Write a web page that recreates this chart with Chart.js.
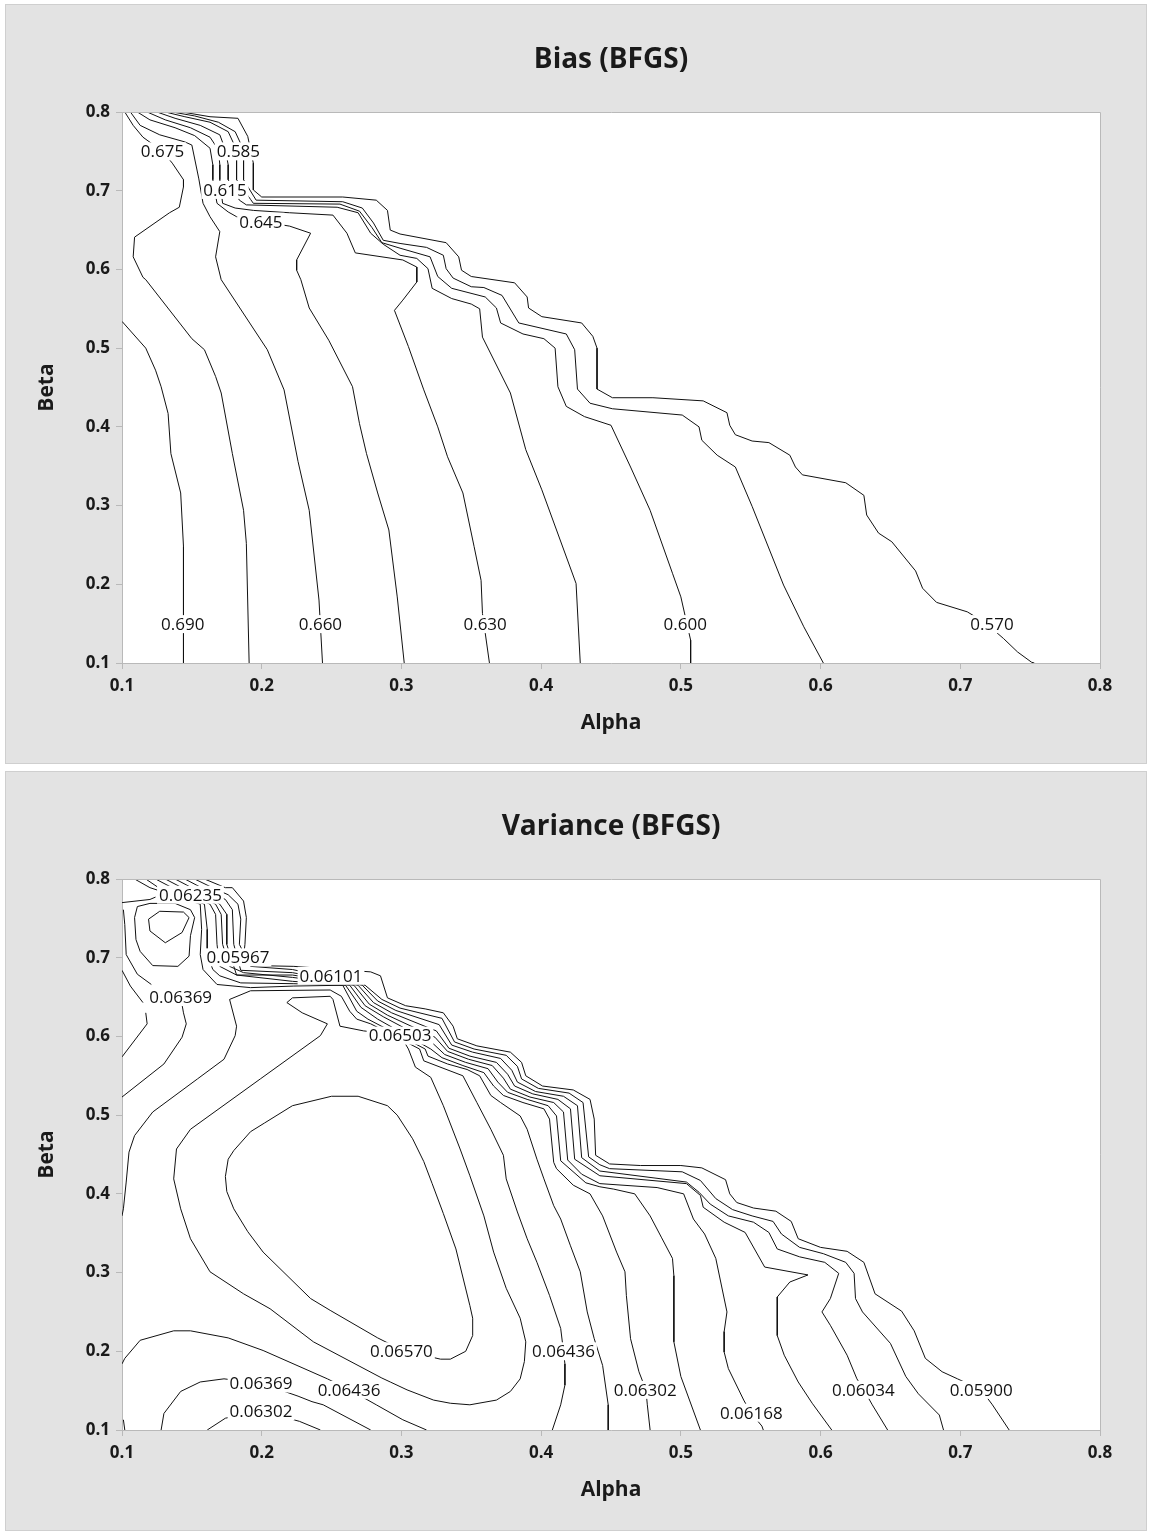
<!DOCTYPE html>
<html>
<head>
<meta charset="utf-8">
<title>Bias / Variance (BFGS)</title>
<script src="https://cdn.jsdelivr.net/npm/chart.js@4.4.0/dist/chart.umd.min.js"></script>
<style>
  body { margin: 0; width: 1152px; height: 1534px; background: #ffffff; position: relative; }
  .panel { position: absolute; left: 5px; width: 1140px; height: 758px; background: #e3e3e3; border: 1px solid #cfcfcf; }
  #panelBias { top: 4px; }
  #panelVar { top: 771px; }
  .panel canvas { position: absolute; left: 0; top: 0; }
</style>
</head>
<body>
<div class="panel" id="panelBias"><canvas id="biasChart" width="1140" height="758"></canvas></div>
<div class="panel" id="panelVar"><canvas id="varChart" width="1140" height="758"></canvas></div>

<script>
// Shared axis ticks (Alpha on x, Beta on y)
const axisTicks = [0.1, 0.2, 0.3, 0.4, 0.5, 0.6, 0.7, 0.8];

// ---- Bias (BFGS): contour lines as [alpha, beta] points ----
const bias0690 = [[0.100,0.534],[0.117,0.500],[0.124,0.472],[0.128,0.451],[0.133,0.417],[0.135,0.366],[0.142,0.316],[0.144,0.248],[0.144,0.100]];
const bias0675 = [[0.102,0.800],[0.108,0.783],[0.115,0.768],[0.129,0.750],[0.136,0.735],[0.144,0.714],[0.144,0.705],[0.141,0.679],[0.134,0.672],[0.109,0.641],[0.108,0.616],[0.115,0.590],[0.117,0.587],[0.150,0.512],[0.159,0.498],[0.167,0.464],[0.171,0.443],[0.179,0.366],[0.187,0.294],[0.189,0.252],[0.191,0.100]];
const bias0660 = [[0.106,0.800],[0.113,0.783],[0.127,0.771],[0.145,0.762],[0.150,0.758],[0.155,0.715],[0.158,0.684],[0.163,0.667],[0.170,0.648],[0.167,0.616],[0.171,0.587],[0.204,0.498],[0.216,0.447],[0.226,0.356],[0.234,0.294],[0.241,0.180],[0.2435,0.100]];
const bias0645 = [[0.111,0.800],[0.120,0.790],[0.138,0.780],[0.152,0.770],[0.163,0.754],[0.165,0.733],[0.165,0.714],[0.168,0.684],[0.176,0.673],[0.182,0.667],[0.199,0.661],[0.220,0.655],[0.235,0.646],[0.225,0.612],[0.225,0.599],[0.228,0.587],[0.234,0.551],[0.248,0.510],[0.265,0.451],[0.270,0.404],[0.275,0.366],[0.283,0.316],[0.291,0.269],[0.297,0.184],[0.302,0.100]];
const bias0630 = [[0.118,0.800],[0.131,0.790],[0.149,0.780],[0.163,0.768],[0.169,0.752],[0.170,0.733],[0.170,0.714],[0.172,0.684],[0.181,0.678],[0.194,0.675],[0.220,0.672],[0.251,0.669],[0.261,0.646],[0.267,0.621],[0.301,0.612],[0.311,0.603],[0.311,0.584],[0.301,0.561],[0.295,0.548],[0.305,0.502],[0.316,0.447],[0.326,0.400],[0.333,0.362],[0.344,0.316],[0.352,0.248],[0.357,0.205],[0.358,0.163],[0.363,0.100]];
const bias0615 = [[0.125,0.800],[0.138,0.792],[0.156,0.783],[0.170,0.771],[0.174,0.752],[0.176,0.733],[0.176,0.714],[0.184,0.688],[0.189,0.682],[0.254,0.679],[0.269,0.672],[0.278,0.646],[0.287,0.632],[0.299,0.618],[0.311,0.614],[0.319,0.601],[0.322,0.576],[0.336,0.563],[0.350,0.556],[0.356,0.550],[0.358,0.514],[0.378,0.443],[0.389,0.371],[0.4005,0.320],[0.425,0.201],[0.428,0.100]];
const bias0600 = [[0.131,0.800],[0.145,0.794],[0.163,0.787],[0.176,0.775],[0.182,0.752],[0.182,0.714],[0.192,0.689],[0.194,0.684],[0.256,0.683],[0.270,0.674],[0.279,0.653],[0.286,0.634],[0.299,0.627],[0.3205,0.616],[0.326,0.591],[0.336,0.576],[0.360,0.565],[0.368,0.551],[0.371,0.532],[0.387,0.518],[0.402,0.512],[0.410,0.500],[0.412,0.451],[0.418,0.426],[0.431,0.413],[0.450,0.402],[0.464,0.349],[0.478,0.294],[0.494,0.214],[0.500,0.184],[0.507,0.129],[0.507,0.100]];
const bias0585 = [[0.136,0.800],[0.152,0.795],[0.169,0.787],[0.181,0.775],[0.187,0.752],[0.187,0.714],[0.196,0.688],[0.258,0.686],[0.272,0.678],[0.280,0.659],[0.287,0.637],[0.299,0.633],[0.318,0.628],[0.330,0.618],[0.332,0.601],[0.337,0.589],[0.350,0.578],[0.359,0.577],[0.372,0.567],[0.384,0.532],[0.418,0.518],[0.424,0.498],[0.426,0.448],[0.435,0.430],[0.451,0.423],[0.501,0.415],[0.513,0.400],[0.515,0.383],[0.526,0.364],[0.539,0.349],[0.551,0.299],[0.5735,0.199],[0.588,0.146],[0.602,0.100]];
const bias0570 = [[0.143,0.800],[0.163,0.794],[0.183,0.792],[0.190,0.769],[0.194,0.735],[0.194,0.701],[0.200,0.692],[0.258,0.692],[0.282,0.688],[0.290,0.675],[0.292,0.650],[0.299,0.645],[0.332,0.634],[0.341,0.616],[0.343,0.599],[0.350,0.591],[0.381,0.583],[0.390,0.565],[0.391,0.551],[0.4005,0.540],[0.429,0.532],[0.437,0.515],[0.440,0.500],[0.440,0.448],[0.451,0.437],[0.480,0.437],[0.516,0.433],[0.533,0.418],[0.535,0.402],[0.539,0.390],[0.551,0.382],[0.563,0.380],[0.578,0.364],[0.582,0.349],[0.587,0.339],[0.618,0.329],[0.631,0.313],[0.633,0.288],[0.6415,0.265],[0.651,0.254],[0.668,0.217],[0.673,0.195],[0.683,0.177],[0.705,0.165],[0.718,0.151],[0.731,0.131],[0.741,0.114],[0.751,0.101],[0.753,0.100]];

const biasLabels = [
  { text: '0.675', x: 0.129, y: 0.750 },
  { text: '0.585', x: 0.1833, y: 0.750 },
  { text: '0.615', x: 0.1737, y: 0.701 },
  { text: '0.645', x: 0.1994, y: 0.6606 },
  { text: '0.690', x: 0.1435, y: 0.1494 },
  { text: '0.660', x: 0.242, y: 0.1494 },
  { text: '0.630', x: 0.3599, y: 0.1494 },
  { text: '0.600', x: 0.5031, y: 0.1494 },
  { text: '0.570', x: 0.7227, y: 0.1494 }
];

// ---- Variance (BFGS): contour lines as [alpha, beta] points ----
const var05900 = [[0.159,0.800],[0.174,0.789],[0.179,0.789],[0.187,0.772],[0.189,0.751],[0.188,0.717],[0.187,0.701],[0.196,0.690],[0.223,0.689],[0.278,0.682],[0.285,0.677],[0.290,0.649],[0.303,0.639],[0.317,0.635],[0.330,0.630],[0.337,0.613],[0.340,0.597],[0.354,0.588],[0.378,0.580],[0.386,0.567],[0.389,0.550],[0.401,0.537],[0.423,0.532],[0.435,0.520],[0.438,0.495],[0.439,0.449],[0.449,0.438],[0.471,0.436],[0.500,0.436],[0.515,0.433],[0.532,0.418],[0.535,0.400],[0.540,0.389],[0.552,0.382],[0.568,0.378],[0.579,0.365],[0.584,0.343],[0.600,0.332],[0.619,0.327],[0.631,0.313],[0.639,0.273],[0.658,0.251],[0.667,0.226],[0.675,0.191],[0.687,0.174],[0.698,0.165],[0.715,0.151],[0.723,0.132],[0.735,0.100]];
const var05967 = [[0.152,0.800],[0.167,0.787],[0.176,0.780],[0.183,0.768],[0.185,0.749],[0.184,0.717],[0.192,0.689],[0.222,0.685],[0.274,0.665],[0.286,0.647],[0.299,0.636],[0.329,0.623],[0.338,0.593],[0.352,0.584],[0.375,0.576],[0.383,0.562],[0.386,0.546],[0.398,0.534],[0.420,0.528],[0.430,0.516],[0.434,0.447],[0.442,0.437],[0.449,0.432],[0.501,0.428],[0.514,0.417],[0.525,0.394],[0.537,0.380],[0.551,0.372],[0.566,0.365],[0.572,0.349],[0.585,0.332],[0.602,0.324],[0.618,0.313],[0.624,0.299],[0.625,0.267],[0.630,0.250],[0.650,0.210],[0.661,0.168],[0.670,0.146],[0.685,0.119],[0.688,0.100]];
const var06034 = [[0.145,0.800],[0.159,0.787],[0.174,0.774],[0.179,0.761],[0.180,0.717],[0.185,0.684],[0.222,0.681],[0.272,0.665],[0.283,0.645],[0.296,0.633],[0.327,0.615],[0.336,0.589],[0.351,0.580],[0.371,0.572],[0.379,0.557],[0.383,0.542],[0.396,0.530],[0.416,0.524],[0.426,0.512],[0.429,0.446],[0.442,0.429],[0.504,0.415],[0.513,0.402],[0.521,0.387],[0.534,0.372],[0.552,0.364],[0.563,0.351],[0.569,0.330],[0.585,0.320],[0.603,0.313],[0.613,0.299],[0.607,0.267],[0.601,0.250],[0.607,0.233],[0.619,0.195],[0.626,0.165],[0.631,0.151],[0.637,0.132],[0.648,0.100]];
const var06101 = [[0.138,0.800],[0.152,0.787],[0.170,0.768],[0.175,0.755],[0.175,0.717],[0.182,0.678],[0.222,0.678],[0.269,0.665],[0.280,0.643],[0.293,0.630],[0.325,0.607],[0.334,0.585],[0.349,0.575],[0.368,0.567],[0.376,0.552],[0.381,0.537],[0.394,0.527],[0.412,0.520],[0.421,0.508],[0.424,0.444],[0.442,0.423],[0.504,0.413],[0.514,0.398],[0.516,0.383],[0.531,0.364],[0.546,0.351],[0.560,0.307],[0.591,0.297],[0.578,0.288],[0.569,0.269],[0.569,0.220],[0.574,0.195],[0.584,0.161],[0.594,0.134],[0.608,0.100]];
const var06168 = [[0.131,0.800],[0.145,0.787],[0.167,0.768],[0.171,0.755],[0.172,0.717],[0.177,0.689],[0.187,0.681],[0.222,0.675],[0.266,0.665],[0.277,0.641],[0.290,0.627],[0.324,0.599],[0.333,0.581],[0.348,0.571],[0.365,0.563],[0.373,0.547],[0.378,0.533],[0.392,0.523],[0.409,0.516],[0.416,0.504],[0.419,0.443],[0.429,0.425],[0.442,0.413],[0.483,0.408],[0.502,0.400],[0.509,0.368],[0.517,0.349],[0.525,0.318],[0.533,0.250],[0.531,0.225],[0.531,0.199],[0.534,0.178],[0.545,0.138],[0.550,0.122],[0.558,0.105],[0.559,0.100]];
const var06235 = [[0.124,0.800],[0.138,0.787],[0.163,0.768],[0.167,0.755],[0.168,0.717],[0.170,0.689],[0.182,0.678],[0.222,0.670],[0.263,0.665],[0.274,0.639],[0.287,0.625],[0.322,0.592],[0.331,0.577],[0.346,0.567],[0.362,0.559],[0.369,0.542],[0.376,0.529],[0.390,0.520],[0.405,0.512],[0.411,0.499],[0.414,0.442],[0.432,0.414],[0.442,0.409],[0.452,0.406],[0.467,0.400],[0.478,0.372],[0.486,0.345],[0.494,0.318],[0.495,0.296],[0.495,0.212],[0.500,0.168],[0.514,0.100]];
const var06302 = [[0.117,0.800],[0.127,0.788],[0.159,0.768],[0.161,0.736],[0.161,0.704],[0.165,0.685],[0.170,0.677],[0.185,0.668],[0.223,0.667],[0.260,0.665],[0.271,0.637],[0.283,0.622],[0.321,0.584],[0.329,0.573],[0.344,0.563],[0.359,0.554],[0.366,0.537],[0.373,0.525],[0.387,0.516],[0.402,0.508],[0.406,0.495],[0.409,0.440],[0.411,0.432],[0.423,0.411],[0.435,0.400],[0.444,0.372],[0.454,0.326],[0.460,0.301],[0.461,0.271],[0.464,0.216],[0.470,0.174],[0.475,0.151],[0.476,0.132],[0.478,0.100]];
const var06302Arc = [[0.161,0.100],[0.174,0.115],[0.200,0.124],[0.227,0.111],[0.242,0.100]];
const var06302Corner = [[0.101,0.113],[0.102,0.100]];
const var06302Loop = [[0.119,0.749],[0.127,0.759],[0.144,0.758],[0.148,0.751],[0.143,0.732],[0.131,0.719],[0.120,0.734],[0.119,0.749]];
const var06235Loop = [[0.111,0.765],[0.109,0.751],[0.110,0.723],[0.113,0.708],[0.122,0.690],[0.140,0.689],[0.148,0.702],[0.149,0.728],[0.152,0.751],[0.149,0.761],[0.138,0.769],[0.120,0.769],[0.111,0.765]];
const var06369 = [[0.109,0.800],[0.120,0.789],[0.156,0.768],[0.157,0.736],[0.156,0.704],[0.158,0.685],[0.168,0.666],[0.192,0.662],[0.223,0.664],[0.258,0.665],[0.268,0.632],[0.276,0.622],[0.317,0.584],[0.319,0.575],[0.333,0.565],[0.347,0.558],[0.356,0.550],[0.364,0.525],[0.371,0.516],[0.385,0.499],[0.390,0.482],[0.397,0.444],[0.402,0.419],[0.409,0.385],[0.414,0.368],[0.421,0.334],[0.428,0.301],[0.433,0.250],[0.438,0.216],[0.444,0.182],[0.448,0.132],[0.448,0.100]];
const var06369Arc = [[0.128,0.100],[0.130,0.121],[0.142,0.149],[0.156,0.161],[0.173,0.165],[0.200,0.159],[0.226,0.143],[0.236,0.136],[0.244,0.132],[0.278,0.100]];
const var06369Left = [[0.142,0.650],[0.144,0.630],[0.146,0.616],[0.143,0.599],[0.130,0.565],[0.100,0.523]];
const var06369EdgeA = [[0.100,0.770],[0.120,0.774],[0.124,0.777]];
const var06369EdgeB = [[0.101,0.761],[0.102,0.742],[0.103,0.704],[0.111,0.679],[0.121,0.666]];
const var06302EdgeA = [[0.100,0.684],[0.106,0.664],[0.115,0.643]];
const var06302EdgeB = [[0.117,0.630],[0.118,0.616],[0.100,0.574]];
const var06436 = [[0.100,0.372],[0.101,0.381],[0.103,0.415],[0.105,0.453],[0.109,0.474],[0.122,0.504],[0.154,0.546],[0.173,0.571],[0.181,0.601],[0.182,0.613],[0.177,0.647],[0.192,0.658],[0.249,0.659],[0.257,0.651],[0.263,0.632],[0.268,0.622],[0.278,0.616],[0.313,0.584],[0.316,0.569],[0.344,0.550],[0.354,0.516],[0.364,0.482],[0.373,0.449],[0.375,0.419],[0.383,0.377],[0.390,0.343],[0.397,0.313],[0.406,0.271],[0.414,0.229],[0.416,0.200],[0.417,0.184],[0.417,0.157],[0.414,0.132],[0.408,0.100]];
const var06436Low = [[0.100,0.184],[0.102,0.191],[0.113,0.214],[0.137,0.226],[0.149,0.226],[0.176,0.217],[0.201,0.201],[0.247,0.165],[0.263,0.151],[0.282,0.132],[0.301,0.113],[0.318,0.100]];
const var06503 = [[0.299,0.602],[0.305,0.584],[0.310,0.561],[0.321,0.548],[0.330,0.512],[0.342,0.457],[0.349,0.423],[0.359,0.372],[0.366,0.326],[0.375,0.280],[0.385,0.242],[0.389,0.212],[0.388,0.187],[0.385,0.165],[0.378,0.149],[0.368,0.138],[0.349,0.132],[0.335,0.134],[0.323,0.138],[0.304,0.151],[0.292,0.161],[0.286,0.166],[0.237,0.212],[0.206,0.254],[0.187,0.273],[0.163,0.301],[0.149,0.343],[0.142,0.381],[0.137,0.419],[0.139,0.457],[0.149,0.482],[0.199,0.546],[0.242,0.601],[0.247,0.616],[0.229,0.630],[0.218,0.643],[0.222,0.649],[0.249,0.651],[0.251,0.647],[0.256,0.613],[0.273,0.607],[0.299,0.602]];
const var06570 = [[0.301,0.201],[0.328,0.190],[0.335,0.190],[0.346,0.200],[0.351,0.220],[0.351,0.242],[0.349,0.258],[0.339,0.330],[0.330,0.375],[0.322,0.413],[0.316,0.441],[0.308,0.470],[0.297,0.500],[0.290,0.512],[0.269,0.524],[0.250,0.524],[0.222,0.512],[0.202,0.490],[0.192,0.479],[0.180,0.455],[0.176,0.444],[0.174,0.422],[0.175,0.403],[0.180,0.381],[0.190,0.352],[0.201,0.326],[0.235,0.267],[0.249,0.252],[0.283,0.217],[0.301,0.201]];

const varLabels = [
  { text: '0.06235', x: 0.149, y: 0.780 },
  { text: '0.05967', x: 0.183, y: 0.7005 },
  { text: '0.06101', x: 0.2496, y: 0.677 },
  { text: '0.06369', x: 0.142, y: 0.650 },
  { text: '0.06503', x: 0.299, y: 0.601 },
  { text: '0.06570', x: 0.300, y: 0.200 },
  { text: '0.06436', x: 0.416, y: 0.200 },
  { text: '0.06369', x: 0.1995, y: 0.159 },
  { text: '0.06436', x: 0.2625, y: 0.151 },
  { text: '0.06302', x: 0.1995, y: 0.1235 },
  { text: '0.06302', x: 0.4745, y: 0.151 },
  { text: '0.06168', x: 0.5504, y: 0.122 },
  { text: '0.06034', x: 0.6306, y: 0.151 },
  { text: '0.05900', x: 0.715, y: 0.151 }
];

const biasLines = [bias0690, bias0675, bias0660, bias0645, bias0630, bias0615, bias0600, bias0585, bias0570];
const varLines = [var05900, var05967, var06034, var06101, var06168, var06235, var06302, var06302Arc, var06302Corner,
  var06302Loop, var06235Loop, var06369, var06369Arc, var06369Left, var06369EdgeA, var06369EdgeB,
  var06302EdgeA, var06302EdgeB, var06436, var06436Low, var06503, var06570];

const FONT = "'Open Sans', 'Noto Sans', 'DejaVu Sans', sans-serif";
const TEXT = '#1a1a1a';
const FRAME = '#b9b9b9';

// White plot area plus the top/right edges of the frame
const framePlugin = {
  id: 'frame',
  beforeDraw(chart) {
    const a = chart.chartArea;
    const ctx = chart.ctx;
    ctx.save();
    ctx.fillStyle = '#ffffff';
    ctx.fillRect(a.left, a.top, a.right - a.left, a.bottom - a.top);
    ctx.restore();
  },
  afterDraw(chart) {
    const a = chart.chartArea;
    const ctx = chart.ctx;
    ctx.save();
    ctx.strokeStyle = FRAME;
    ctx.lineWidth = 1;
    ctx.beginPath();
    ctx.moveTo(a.left, a.top + 0.5);
    ctx.lineTo(a.right + 0.5, a.top + 0.5);
    ctx.lineTo(a.right + 0.5, a.bottom);
    ctx.stroke();
    ctx.restore();
  }
};

// Contour level labels, drawn on a white patch that breaks the line
const contourLabelPlugin = {
  id: 'contourLabels',
  afterDatasetsDraw(chart, args, opts) {
    const ctx = chart.ctx;
    const xs = chart.scales.x;
    const ys = chart.scales.y;
    ctx.save();
    ctx.font = '17px ' + FONT;
    ctx.textAlign = 'center';
    ctx.textBaseline = 'middle';
    (opts.items || []).forEach(l => {
      const px = xs.getPixelForValue(l.x);
      const py = ys.getPixelForValue(l.y);
      const w = ctx.measureText(l.text).width;
      ctx.fillStyle = '#ffffff';
      ctx.fillRect(px - w / 2 - 2, py - 9, w + 4, 18);
      ctx.fillStyle = '#111111';
      ctx.fillText(l.text, px, py + 1);
    });
    ctx.restore();
  }
};

function toDatasets(lines) {
  return lines.map(pts => ({
    data: pts.map(p => ({ x: p[0], y: p[1] })),
    showLine: true,
    borderColor: '#111111',
    borderWidth: 1,
    pointRadius: 0,
    pointHoverRadius: 0,
    tension: 0,
    fill: false
  }));
}

function axisOptions(titleText, isX) {
  return {
    type: 'linear',
    min: 0.1,
    max: 0.8,
    afterBuildTicks: s => { s.ticks = axisTicks.map(v => ({ value: v })); },
    afterFit: s => { if (isX) { s.height = 100; } else { s.width = 96; } },
    ticks: {
      callback: v => Number(v).toFixed(1),
      color: TEXT,
      font: { family: FONT, size: 17, weight: 'bold' },
      padding: isX ? 7 : 6,
      maxRotation: 0,
      autoSkip: false
    },
    grid: { display: true, drawOnChartArea: false, drawTicks: true, tickLength: 6, color: FRAME },
    border: { display: true, color: FRAME, width: 1 },
    title: {
      display: true,
      text: titleText,
      color: TEXT,
      font: { family: FONT, size: 21, weight: 'bold' },
      padding: isX ? { top: 0, bottom: 27 } : { top: 8, bottom: 0 }
    }
  };
}

function makeChart(id, titleText, lines, labels) {
  const ctx = document.getElementById(id).getContext('2d');
  return new Chart(ctx, {
    type: 'scatter',
    data: { datasets: toDatasets(lines) },
    options: {
      responsive: false,
      animation: false,
      devicePixelRatio: 1,
      layout: { padding: { left: 20, right: 46, top: 0, bottom: 0 } },
      plugins: {
        legend: { display: false },
        tooltip: { enabled: false },
        title: {
          display: true,
          fullSize: false,
          text: titleText,
          color: TEXT,
          font: { family: FONT, size: 28, weight: 'bold' },
          padding: { top: 38, bottom: 35.4 }
        },
        contourLabels: { items: labels }
      },
      scales: {
        x: axisOptions('Alpha', true),
        y: axisOptions('Beta', false)
      }
    },
    plugins: [framePlugin, contourLabelPlugin]
  });
}

makeChart('biasChart', 'Bias (BFGS)', biasLines, biasLabels);
makeChart('varChart', 'Variance (BFGS)', varLines, varLabels);
</script>
</body>
</html>
